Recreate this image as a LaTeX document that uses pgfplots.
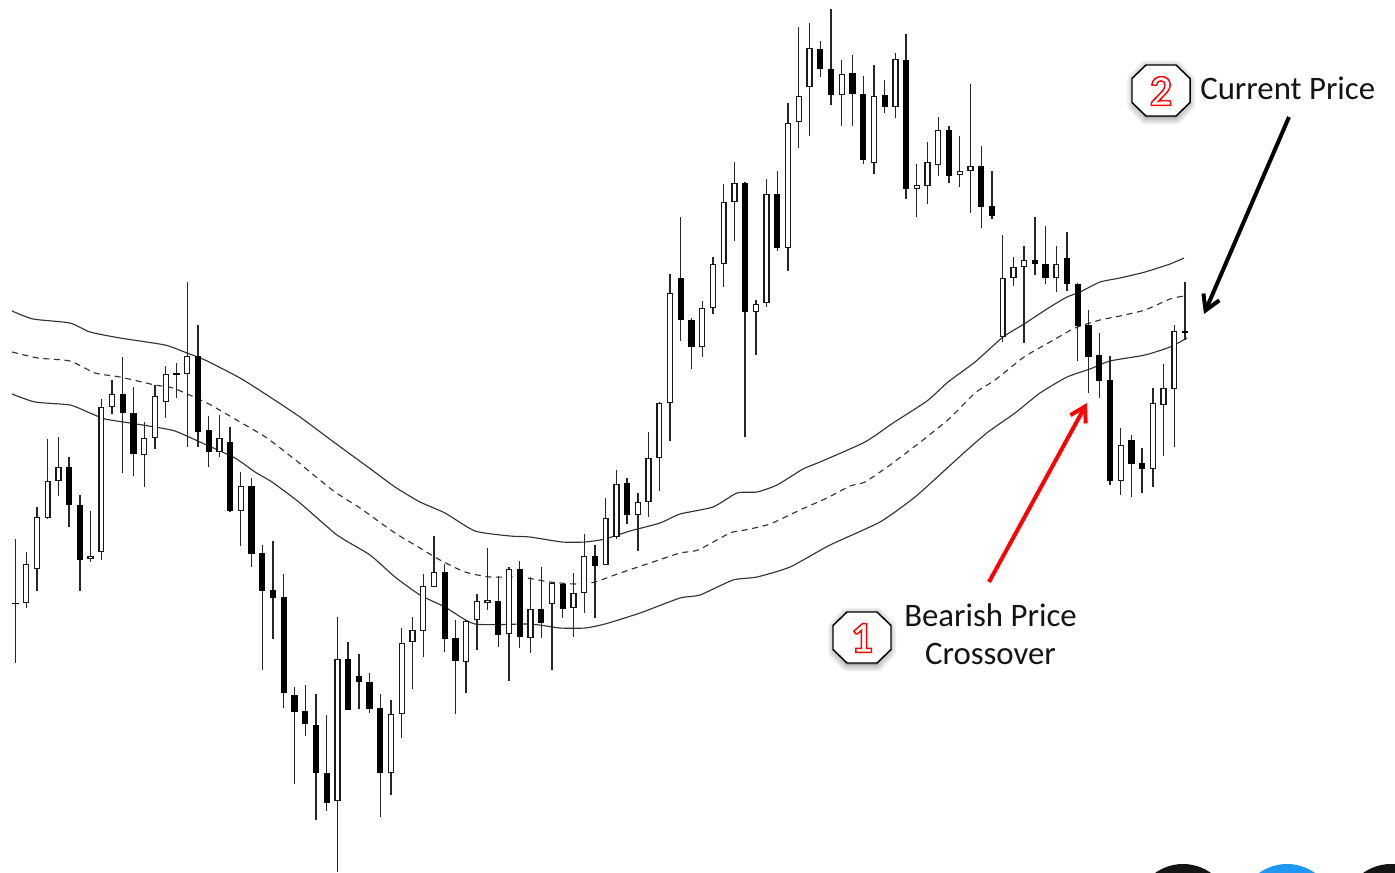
\documentclass[border=0pt]{standalone}
\usepackage{pgfplots}
\usepackage{pgfplotstable}
\pgfplotsset{compat=1.18}
\usepackage{fontspec}
\setmainfont{Carlito}
\usetikzlibrary{arrows.meta}
\definecolor{badgeblue}{RGB}{33,150,243}

% columns: candle index, high, low, body top, body bottom (picture scale, larger = lower)
\pgfplotstableread{
i hi lo top bot
1 552 608 564 603
2 507 591 517 569
3 439 519 481 518
4 437 496 467 481
7 511 562 556 559
8 399 560 407 552
9 380 414 394 407
12 422 487 438 455
13 385 449 396 438
14 366 418 374 402
16 282 447 356 374
19 415 457 438 452
21 472 546 486 511
30 617 872 659 801
35 700 795 714 773
36 628 738 643 714
37 617 689 630 642
38 574 657 586 631
39 536 587 572 587
42 620 693 621 662
43 594 650 601 620
44 548 610 600 603
46 567 681 569 634
48 577 653 609 638
50 582 670 583 604
52 573 637 593 608
53 534 613 556 593
55 498 565 518 565
56 470 539 484 537
58 493 551 502 515
59 432 517 458 502
60 402 491 403 458
61 274 441 293 403
64 301 357 308 347
65 257 314 264 308
66 184 287 202 264
67 162 241 183 202
69 300 355 304 312
70 179 307 194 303
72 103 271 123 248
73 27 148 96 122
74 23 136 48 87
77 60 126 74 95
80 65 174 96 163
82 53 118 59 107
84 164 217 185 189
85 142 204 162 186
86 117 176 130 165
88 136 187 171 175
89 84 213 166 171
92 235 342 278 337
93 257 286 267 278
94 246 343 260 267
97 246 292 264 278
103 428 495 445 481
106 388 487 403 469
107 364 456 388 405
108 325 447 331 389
}\bull
\pgfplotstableread{
i hi lo top bot
0 539 663 602.5 604
5 457 527 467 505
6 495 591 505 560
10 357 473 394 413
11 387 476 413 454
15 363 398 373.3 375
17 325 447 356 432
18 416 467 430 452
20 427 512 442 511
22 478 567 486 554
23 545 670 553 591
24 541 639 590 598
25 574 708 597 693
26 687 784 695 712
27 685 736 711 724
28 694 820 725 773
29 715 811 773 803
31 642 710 659 710
32 654 709 676 682
33 673 713 682 709
34 694 817 708 773
40 564 652 572 639
41 620 714 638 661
45 576 647 601 635
47 561 648 569 637
49 567 638 609 623
51 583 618 584 609
54 545 618 556 566
57 478 524 483 515
62 217 341 278 320
63 318 369 320 347
68 182 437 183 312
71 171 251 194 248
75 41 77 49 69
76 9 105 69 95
78 55 126 73 94
79 76 164 94 160
81 80 113 95 107
83 34 199 60 189
87 126 183 130 176
90 146 228 166 207
91 171 219 206 216
95 217 275 260 264
96 226 284 264 278
98 232 291 258 284
99 283 361 284 326
100 310 393 325 357
101 333 398 355 381
102 356 485 380 481
104 435 497 440 464
105 448 493 463 469
109 282 340 331 332.5
}\bear

\newcommand{\badge}[3]{%
  \begin{scope}[shift={(#1,#2)}]
    \foreach \w in {14,11,8,5,2}{
      \draw[black,opacity=.055,fill=black,line width=\w*.75pt,line join=round]
        (-15,-23) -- (15,-23) -- (27,-10) -- (27,14) -- (15,27) -- (-15,27) -- (-27,14) -- (-27,-10) -- cycle;
    }
    \draw[black,fill=white,line width=1.1pt,line join=miter]
      (-15,-25.5) -- (15,-25.5) -- (29,-12) -- (29,12) -- (15,25.5) -- (-15,25.5) -- (-29,12) -- (-29,-12) -- cycle;
    \node[font=\bfseries\fontsize{33}{33}\selectfont] at (0,0.5) {\special{pdf:code q 1 1 1 rg 1 0 0 RG 1.1 w 2 Tr}#3\special{pdf:code 0 Tr Q}};
  \end{scope}%
}

\begin{document}
\begin{tikzpicture}
\useasboundingbox (0,0) rectangle (1046.25pt,654pt);
\begin{axis}[
  at={(0,0)}, anchor=south west,
  scale only axis, width=1046.25pt, height=654pt,
  xmin=0, xmax=1395, ymin=0, ymax=872, y dir=reverse,
  hide axis, clip=true,
]
% upper band
\addplot[mark=none, black!80, line width=.85pt, smooth, tension=0.35] coordinates {
(12,311)(33,319)(70,323)(90,332)(120,338)(165,345)(187,353)(205,360)(240,378)(270,397)(300,417)
(335,443)(372,470)(395,487)(420,502)(445,513)(475,531)(510,536)(530,537)(562,542)(585,542)(605,539)
(630,531)(660,523)(680,514)(713,507)(737,493)(757,492)(777,485)(803,469)(820,462)(865,442)(893,423)
(927,401)(948,382)(975,362)(1003,337)(1024,324)(1050,307)(1067,297)(1080,292)(1100,282)(1120,278)(1145,272)(1170,264)(1184,258)};
% middle band
\addplot[mark=none, black!80, line width=.85pt, dash pattern=on 4.5pt off 3.5pt, smooth, tension=0.35] coordinates {
(12,352)(38,358)(70,361)(95,373)(120,377)(155,385)(173,388)(207,403)(240,422)(267,438)(298,462)
(310,472)(335,492)(360,508)(395,533)(420,548)(440,560)(465,572)(490,577)(520,577)(550,582)(575,584)(595,582)
(620,573)(650,563)(680,553)(698,550)(730,533)(745,530)(770,524)(800,510)(827,498)(850,486)(865,482)(890,465)
(923,440)(950,418)(975,393)(995,380)(1024,357)(1050,342)(1075,328)(1100,320)(1120,316)(1145,310)(1170,299)(1184,296)};
% lower band
\addplot[mark=none, black!80, line width=.85pt, smooth, tension=0.35] coordinates {
(12,394)(35,402)(70,405)(90,413)(105,419)(130,423)(155,427)(175,431)(200,442)(235,458)(255,472)(272,482)
(300,503)(337,535)(370,555)(395,577)(420,595)(445,607)(475,624)(530,624)(560,628)(585,628)(605,624)
(640,613)(680,598)(700,595)(733,580)(757,577)(790,567)(830,545)(880,522)(915,497)(945,470)(967,450)(988,432)
(1015,413)(1040,393)(1067,377)(1090,369)(1110,361)(1145,355)(1170,347)(1187,338)};
% wicks
\pgfplotsset{candle/.style={draw=none, mark=none, forget plot, error bars/y dir=both, error bars/y explicit,
   error bars/error mark=none, error bars/error bar style={line width=#1, black!85}}}
\addplot[candle=1pt] table[x expr=15.5+10.73*\thisrow{i}, y=hi,
  y error plus expr=\thisrow{lo}-\thisrow{hi}, y error minus expr=0] {\bull};
\addplot[candle=1pt] table[x expr=15.5+10.73*\thisrow{i}, y=hi,
  y error plus expr=\thisrow{lo}-\thisrow{hi}, y error minus expr=0] {\bear};
% bodies
\addplot[candle=4.7pt, error bars/error bar style={black}] table[x expr=15.5+10.73*\thisrow{i}, y=top,
  y error plus expr=\thisrow{bot}-\thisrow{top}, y error minus expr=0] {\bear};
\addplot[candle=4.7pt, error bars/error bar style={black!90}] table[x expr=15.5+10.73*\thisrow{i}, y=top,
  y error plus expr=\thisrow{bot}-\thisrow{top}, y error minus expr=0] {\bull};
\addplot[candle=2.7pt, error bars/error bar style={white}] table[x expr=15.5+10.73*\thisrow{i}, y expr=\thisrow{top}+1.3,
  y error plus expr=\thisrow{bot}-\thisrow{top}-2.6, y error minus expr=0] {\bull};
\end{axis}
\begin{scope}[shift={(0,654pt)}, x=.75pt, y=-.75pt]
  \begin{scope}
    \clip (0,0) rectangle (1395,872);
    \fill[black!92] (1183,912) circle (48);
    \fill[black!92] (1391,912) circle (48);
    \fill[badgeblue] (1287,912) circle (48);
  \end{scope}
  \draw[red,line width=3pt,-{Straight Barb[length=11pt,width=13pt,line width=3pt]}] (989,582) -- (1087,403);
  \draw[black,line width=3pt,-{Straight Barb[length=11pt,width=13pt,line width=3pt]}] (1289,117) -- (1204,314);
  \badge{1161}{90.5}{2}
  \badge{862}{637.5}{1}
  \node[anchor=base west,inner sep=0pt,font=\fontsize{24.6}{24.6}\selectfont,text=black!92] at (1200,100) {Current Price};
  \node[anchor=base,inner sep=0pt,font=\fontsize{24.6}{24.6}\selectfont,text=black!92] at (990.5,626) {Bearish Price};
  \node[anchor=base,inner sep=0pt,font=\fontsize{24.6}{24.6}\selectfont,text=black!92] at (990.5,664) {Crossover};
\end{scope}
\end{tikzpicture}
\end{document}
